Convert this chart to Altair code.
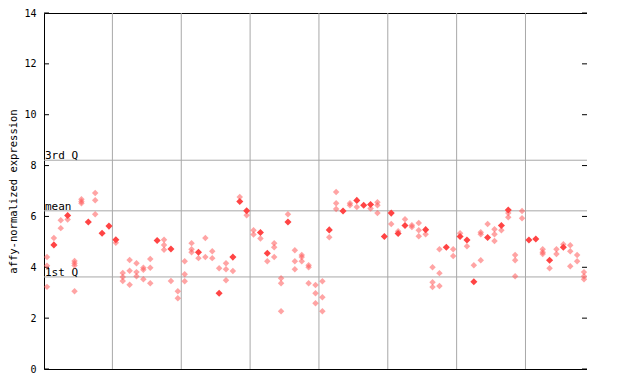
import altair as alt
import pandas as pd

# column index, value, kind (1 = solid, 0 = hollow)
cols = [0,0,0, 1,1, 2,2, 3,3, 4,4,4,4, 5,5,5, 6, 7,7,7, 8, 9,
        10,10, 11,11,11, 12,12,12, 13,13,13, 14,14,14, 15,15,15, 16, 17,17,17, 18,18, 19,19,
        20,20,20, 21,21,21, 22,22, 23,23, 24,24, 25,25, 26,26,26, 27,27, 28,28, 29,29,
        30,30, 31,31, 32,32, 33,33,33, 34,34,34, 35,35, 36,36,36, 37,37,37, 38,38,38, 39,39,39,
        40,40,40, 41,41, 42,42,42, 43, 44,44, 45,45, 46, 47,47, 48,48,48, 49,
        50,50, 51,51, 52,52, 53,53, 54,54,54, 55,55, 56,56,56, 57,57,57, 58, 59,59,
        60,60, 61,61, 62,62, 63,63,63, 64,64, 65,65,65, 66,66, 67,67,67, 68,68,68, 69,69,
        70, 71, 72,72,72, 73,73, 74,74, 75,75, 76,76,76, 77,77, 78,78,78]
vals = [4.40,4.06,3.23, 5.15,4.88, 5.85,5.54, 6.04,5.88, 4.25,4.16,4.07,3.06, 6.68,6.59,6.52, 5.78, 6.92,6.64,6.09, 5.34, 5.62,
        5.08,4.96, 3.78,3.62,3.46, 4.29,3.86,3.31, 4.16,3.81,3.65, 3.98,3.90,3.53, 4.33,3.98,3.37, 5.05, 5.08,4.88,4.69, 4.72,3.46, 3.06,2.78,
        4.24,3.73,3.45, 4.95,4.71,4.59, 4.59,4.36, 5.15,4.40, 4.63,4.36, 3.96,2.98, 4.16,3.92,3.49, 4.40,3.85, 6.76,6.59, 6.22,6.05,
        5.46,5.29, 5.37,5.13, 4.55,4.24, 4.95,4.79,4.40, 3.57,3.37,2.27, 6.09,5.78, 4.67,4.24,3.92, 4.48,4.40,4.24, 4.08,4.00,3.37, 3.30,2.98,2.59,
        3.45,2.82,2.27, 5.47,5.18, 6.96,6.52,6.29, 6.21, 6.52,6.44, 6.63,6.37, 6.44, 6.47,6.31, 6.56,6.44,6.13, 5.21,
        6.13,5.70, 5.42,5.33, 5.89,5.64, 5.65,5.58, 5.74,5.46,5.22, 5.48,5.30, 4.00,3.41,3.22, 4.71,3.77,3.26, 4.79, 4.71,4.44,
        5.34,5.21, 5.07,4.83, 4.08,3.43, 5.38,5.30,4.28, 5.70,5.17, 5.50,5.30,5.03, 5.64,5.46, 6.25,6.13,5.97, 4.48,4.28,3.65, 6.21,5.93,
        5.07, 5.11, 4.71,4.59,4.52, 4.28,3.96, 4.71,4.52, 4.91,4.79, 4.87,4.63,4.04, 4.48,4.24, 3.81,3.65,3.53]
kinds = [0,0,0, 0,1, 0,0, 1,0, 0,0,0,0, 0,0,0, 1, 0,0,0, 1, 1,
         1,0, 0,0,0, 0,0,0, 0,0,0, 0,0,0, 0,0,0, 1, 0,0,0, 1,0, 0,0,
         0,0,0, 0,0,0, 1,0, 0,0, 0,0, 0,1, 0,0,0, 1,0, 0,1, 1,0,
         0,0, 1,0, 1,0, 0,0,0, 0,0,0, 0,1, 0,0,0, 0,0,0, 0,0,0, 0,0,0,
         0,0,0, 1,0, 0,0,0, 1, 0,0, 1,0, 1, 1,0, 0,0,0, 1,
         1,0, 0,1, 0,1, 0,0, 0,0,0, 1,0, 0,0,0, 0,0,0, 1, 0,0,
         0,1, 1,0, 0,1, 0,0,0, 0,1, 0,0,0, 1,0, 1,0,0, 0,0,0, 0,0,
         1, 1, 0,0,0, 1,0, 0,0, 0,1, 0,0,0, 0,0, 0,0,0]

group_bounds = [9.5, 19.5, 29.5, 39.5, 49.5, 59.5, 69.5]
ref_values = [8.21, 6.22, 3.62]
ref_labels = ["3rd Q", "mean", "1st Q"]
y_ticks = [0, 2, 4, 6, 8, 10, 12, 14]

df = pd.DataFrame({"col": cols, "v": vals, "kind": kinds})
hollow = df[df.kind == 0]
solid = df[df.kind == 1]

W, H = 543, 356
xs = alt.Scale(domain=[-0.436, 78.436], nice=False, zero=False)
ys = alt.Scale(domain=[0, 14], nice=False, zero=False)

yaxis = alt.Axis(values=y_ticks, ticks=False, domain=False, grid=False,
                 labelFont="DejaVu Sans Mono", labelFontSize=10, labelColor="black",
                 labelPadding=8, title="affy-normalized expression",
                 titleFont="DejaVu Sans Mono", titleFontSize=10.5, titleFontWeight="normal",
                 titleColor="black", titleX=-31, titleY=H / 2, titleAngle=270,
                 titleAlign="center", titleBaseline="middle")
Y = alt.Y("v:Q", scale=ys, axis=yaxis)

vgrid = alt.Chart(pd.DataFrame({"b": group_bounds})).mark_rule(color="#a8a8a8", strokeWidth=1).encode(
    x=alt.X("b:Q", scale=xs, axis=None))

refdf = pd.DataFrame({"v": ref_values, "t": ref_labels})
hgrid = alt.Chart(refdf).mark_rule(color="#a8a8a8", strokeWidth=1).encode(y=Y)

hlabels = alt.Chart(refdf).mark_text(
    align="left", baseline="bottom", dy=1, dx=1, font="DejaVu Sans Mono", fontSize=11, color="black"
).encode(x=alt.value(0), y=Y, text="t:N")

tick_df = pd.DataFrame({"v": y_ticks})
lticks = alt.Chart(tick_df).mark_rule(color="black").encode(
    x=alt.value(0), x2=alt.value(5), y=Y)
rticks = alt.Chart(tick_df).mark_rule(color="black").encode(
    x=alt.value(W - 5), x2=alt.value(W), y=Y)

pts_h = alt.Chart(hollow).mark_point(shape="diamond", filled=True, size=42, color="#ff5a5a", opacity=0.55).encode(
    x=alt.X("col:Q", scale=xs, axis=None), y=Y)
pts_s = alt.Chart(solid).mark_point(shape="diamond", filled=True, size=50, color="#ff4444", opacity=1).encode(
    x=alt.X("col:Q", scale=xs, axis=None), y=Y)

chart = alt.layer(hgrid, vgrid, hlabels, lticks, rticks, pts_h, pts_s).properties(
    width=W, height=H,
    background="white",
    autosize=alt.AutoSizeParams(type="none"),
    padding={"left": 36, "top": 5, "right": 0, "bottom": 10},
).configure_view(stroke="black", strokeWidth=1)

chart.save("out.html", embed_options={"renderer": "svg", "actions": False})
